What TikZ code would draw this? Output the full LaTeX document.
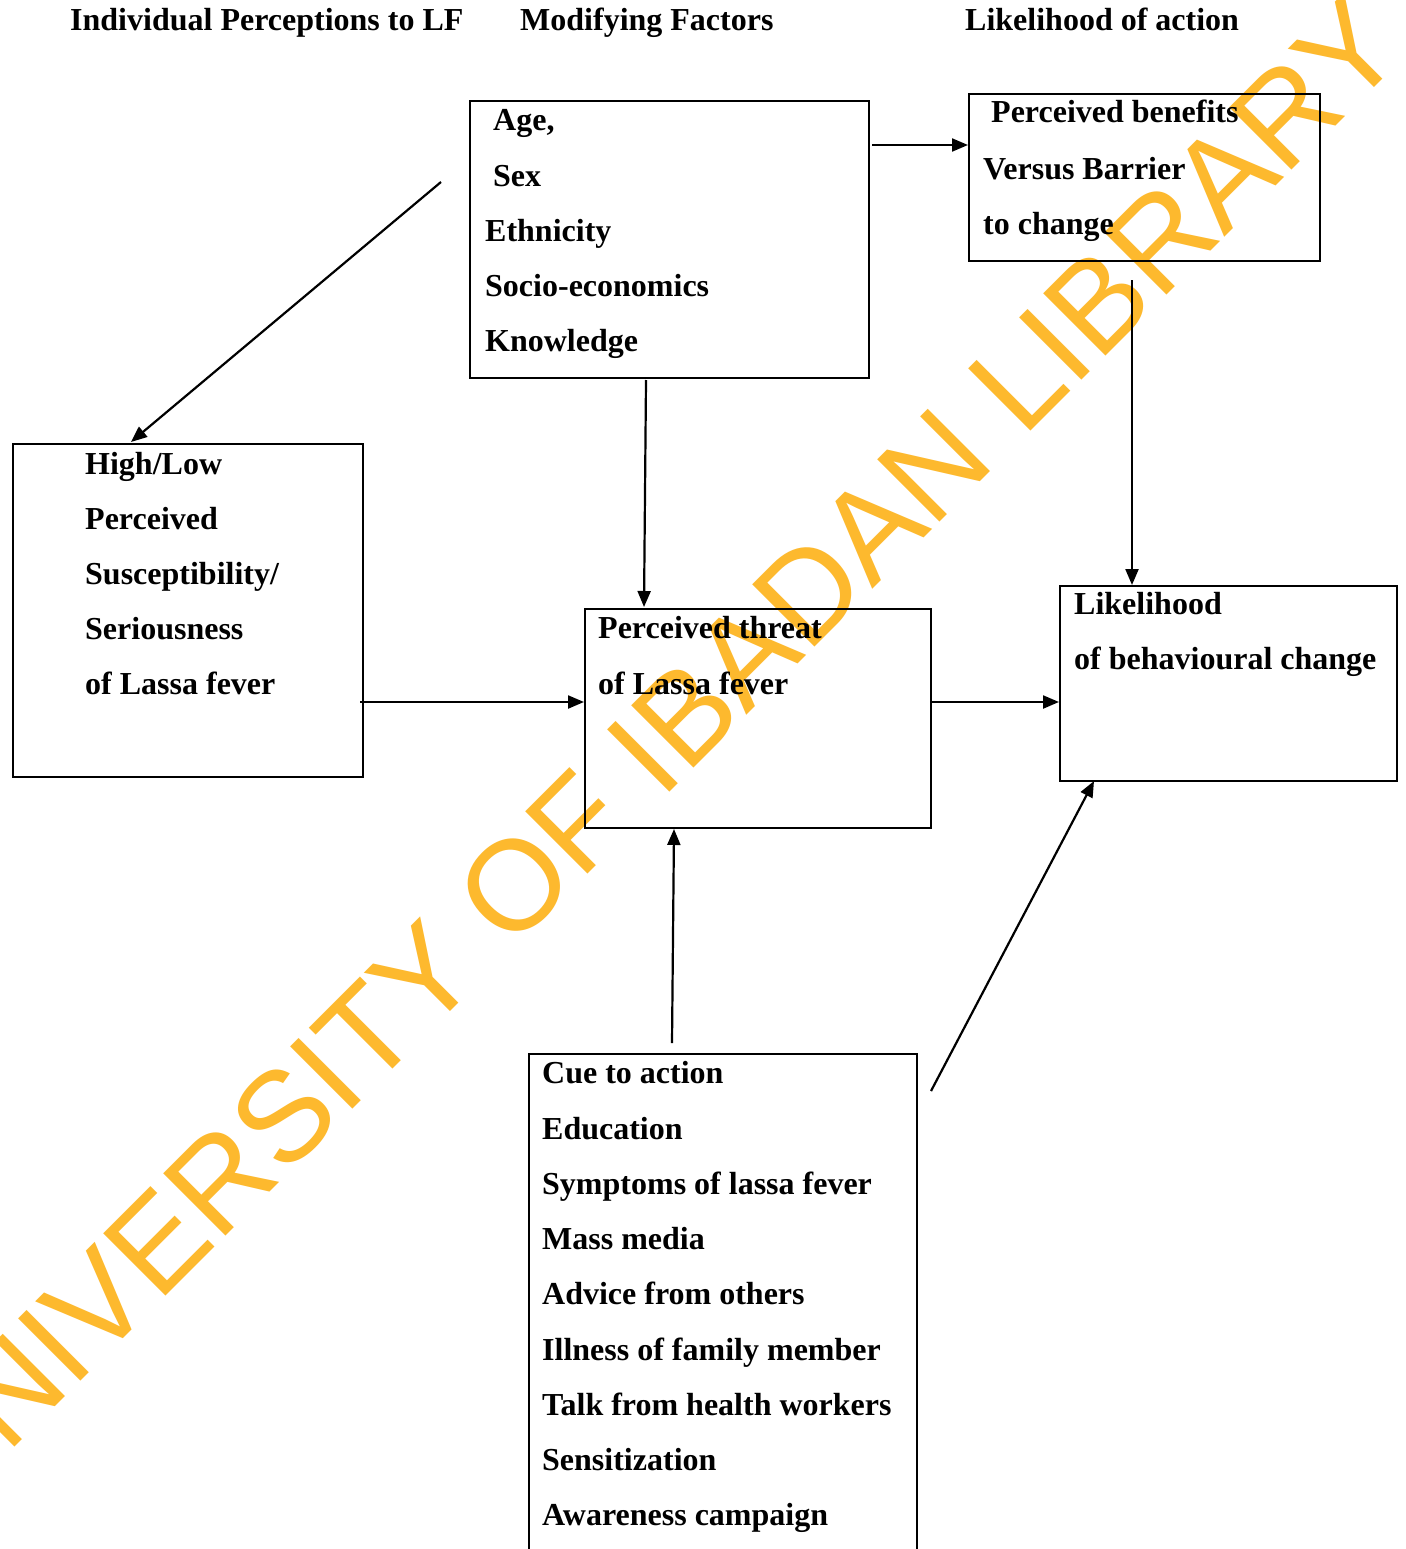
\documentclass[tikz,border=0pt]{standalone}
\usepackage{fontspec}
\setmainfont{Liberation Serif}
\newfontfamily\wmfont{Liberation Sans}
\usetikzlibrary{arrows.meta}
\definecolor{wmcol}{RGB}{253,185,46}
\begin{document}
\begin{tikzpicture}[x=1pt,y=-1pt,
  box/.style={draw, line width=2.4pt, rectangle, inner sep=0pt, anchor=north west},
  arr/.style={line width=2.2pt, -{Triangle[length=16pt,width=13pt]}},
  txt/.style={font=\bfseries\fontsize{32}{38}\selectfont, anchor=base west, inner sep=0pt},
  wm/.style={font=\wmfont\fontsize{128}{150}\selectfont, text=wmcol, rotate=45, anchor=base west, inner sep=0pt}]
\useasboundingbox (0,0) rectangle (1405,1549);
\fill[white] (0,0) rectangle (1405,1549);
% watermark
\node[wm] (water) at (-58,1520) {UNIVERSITY OF IBADAN LIBRARY};
% headings
\node[txt] (h1) at (70,31) {Individual Perceptions to LF};
\node[txt] (h2) at (520,31) {Modifying Factors};
\node[txt] (h3) at (965,31) {Likelihood of action};
% boxes
\node[box, minimum width=399pt, minimum height=277pt] (mf) at (469,100) {};
\node[box, minimum width=351pt, minimum height=167pt] (ben) at (968,93) {};
\node[box, minimum width=350pt, minimum height=333pt] (sus) at (12,443) {};
\node[box, minimum width=346pt, minimum height=219pt] (thr) at (584,608) {};
\node[box, minimum width=337pt, minimum height=195pt] (lik) at (1059,585) {};
\node[box, minimum width=388pt, minimum height=520pt] (cue) at (528,1053) {};
% modifying factors text
\node[txt] (m1) at (493,131) {Age,};
\node[txt] (m2) at (493,186) {Sex};
\node[txt] (m3) at (485,241) {Ethnicity};
\node[txt] (m4) at (485,296) {Socio-economics};
\node[txt] (m5) at (485,351) {Knowledge};
% benefits text
\node[txt] (b1) at (991,123) {Perceived benefits};
\node[txt] (b2) at (983,179) {Versus Barrier};
\node[txt] (b3) at (983,234) {to change};
% susceptibility text
\node[txt] (s1) at (85,474) {High/Low};
\node[txt] (s2) at (85,529) {Perceived};
\node[txt] (s3) at (85,584) {Susceptibility/};
\node[txt] (s4) at (85,639) {Seriousness};
\node[txt] (s5) at (85,694) {of Lassa fever};
% threat text
\node[txt] (t1) at (598,638) {Perceived threat};
\node[txt] (t2) at (598,694) {of Lassa fever};
% likelihood text
\node[txt] (l1) at (1074,614) {Likelihood};
\node[txt] (l2) at (1074,669) {of behavioural change};
% cue text
\node[txt] (c1) at (542,1083) {Cue to action};
\node[txt] (c2) at (542,1139) {Education};
\node[txt] (c3) at (542,1194) {Symptoms of lassa fever};
\node[txt] (c4) at (542,1249) {Mass media};
\node[txt] (c5) at (542,1304) {Advice from others};
\node[txt] (c6) at (542,1360) {Illness of family member};
\node[txt] (c7) at (542,1415) {Talk from health workers};
\node[txt] (c8) at (542,1470) {Sensitization};
\node[txt] (c9) at (542,1525) {Awareness campaign};
% connector start/end coordinates
\coordinate (a1s) at (441,182);
\coordinate (a1e) at (131,442);
\coordinate (a2s) at (872,145);
\coordinate (a3s) at (1132,280);
\coordinate (a4s) at (646,380);
\coordinate (a4e) at (644,607);
\coordinate (a5s) at (360,702);
\coordinate (a6s) at (931,702);
\coordinate (a7s) at (672,1043);
\coordinate (a7e) at (674,829);
\coordinate (a8s) at (931,1091);
\coordinate (a8e) at (1094,781);
% connectors
\draw[arr] (a1s) -- (a1e);
\draw[arr] (a2s) -- (ben.west |- a2s);
\draw[arr] (a3s) -- (a3s |- lik.north);
\draw[arr] (a4s) -- (a4e);
\draw[arr] (a5s) -- (thr.west |- a5s);
\draw[arr] (a6s) -- (lik.west |- a6s);
\draw[arr] (a7s) -- (a7e);
\draw[arr] (a8s) -- (a8e);
\end{tikzpicture}
\end{document}
